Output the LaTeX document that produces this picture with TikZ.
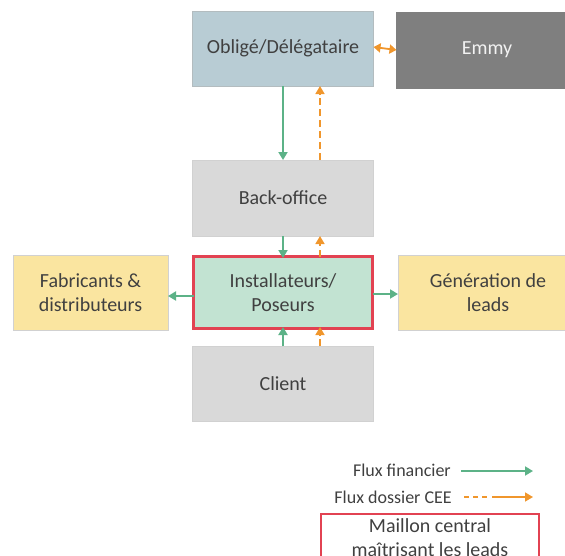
\documentclass[tikz,border=0pt]{standalone}
\usepackage{fontspec}
\setmainfont{Carlito}
\usetikzlibrary{positioning,arrows.meta}
\definecolor{CeeBlue}{RGB}{184,204,212}
\definecolor{CeeGrey}{RGB}{217,217,217}
\definecolor{CeeDark}{RGB}{127,127,127}
\definecolor{CeeMint}{RGB}{194,227,210}
\definecolor{CeeYellow}{RGB}{250,229,160}
\definecolor{CeeGreen}{RGB}{92,178,135}
\definecolor{CeeOrange}{RGB}{240,150,44}
\definecolor{CeeRed}{RGB}{226,66,82}
\definecolor{CeeText}{RGB}{64,64,64}
\tikzset{
  cee box/.style={
    draw=black!18,
    line width=0.8pt,
    align=center,
    text=CeeText,
    font=\fontsize{20pt}{24pt}\selectfont,
    inner sep=4pt,
    outer sep=0pt,
    minimum width=181pt,
    minimum height=75pt
  },
  cee actor/.style={cee box, fill=CeeGrey},
  cee oblige/.style={cee box, fill=CeeBlue, draw=CeeBlue!70!black!60},
  cee side/.style={cee box, fill=CeeYellow, minimum width=155pt},
  cee core/.style={cee box, fill=CeeMint, draw=CeeRed, line width=3pt, minimum width=179pt, minimum height=72pt},
  cee money/.style={-{Triangle[length=8pt,width=9pt]}, line width=1.8pt, CeeGreen},
  cee file/.style={-{Triangle[length=8pt,width=9pt]}, line width=1.6pt, CeeOrange, dash pattern=on 7pt off 4pt},
  cee legend/.style={font=\fontsize{18pt}{22pt}\selectfont, text=CeeText, inner sep=0pt}
}
\begin{document}
\begin{tikzpicture}[x=1pt,y=-1pt]
\useasboundingbox (0,0) rectangle (565,555);
\clip (0,0) rectangle (565,555);
\node[cee core] (inst) at (283,292.5) {Installateurs/\\Poseurs};
\node[cee actor, above=20.5pt of inst, minimum height=76pt] (back) {Back-office};
\node[cee oblige, above=74pt of back] (oblige) {Obligé/Délégataire};
\node[cee box, fill=CeeDark, draw=CeeDark, text=black!5, right=23pt of oblige, yshift=-1.5pt, minimum height=76pt] (emmy) {Emmy};
\node[cee actor, below=17.5pt of inst] (client) {Client};
\node[cee side, left=25.5pt of inst] (fab) {Fabricants \&\\distributeurs};
\node[cee side, right=25.5pt of inst, minimum width=180pt] (gen) {Génération de\\leads};
% flux entre acteurs
\draw[cee money] (oblige.south) -- (back.north);
\draw[cee file] ([xshift=37pt]back.north) -- ([xshift=37pt]oblige.south);
\draw[cee money] (back.south) -- ([yshift=-1.5pt]inst.north);
\draw[cee file] ([xshift=37pt]inst.north) -- ([xshift=37pt]back.south);
\draw[cee money] (client.north) -- ([yshift=1.5pt]inst.south);
\draw[cee file] ([xshift=37pt]client.north) -- ([xshift=37pt,yshift=1.5pt]inst.south);
\draw[cee money] ([yshift=-3.5pt]inst.west) -- ([yshift=-3.5pt]fab.east);
\draw[cee money] ([yshift=-1.5pt]inst.east) -- ([yshift=-1.5pt]gen.west);
\draw[{Triangle[length=7pt,width=9pt]}-{Triangle[length=7pt,width=9pt]}, line width=1.8pt, CeeOrange] ([yshift=1.5pt]oblige.east) -- ([yshift=0pt]emmy.west);
% legende
\node[cee legend, anchor=east] (fin) at (451,470) {Flux financier};
\node[cee legend, anchor=east] (cee) at (452,497) {Flux dossier CEE};
\coordinate (fin end) at (533,471);
\coordinate (cee end) at (533,497);
\draw[cee money] (fin.east -| 461,0) ++(0,1) -- (fin end);
\draw[cee file, dash pattern=on 5pt off 4pt on 5pt off 4pt on 5pt off 5pt on 60pt off 1pt] (cee.east -| 464,0) -- (cee end);
\node[cee box, draw=CeeRed, line width=2.5pt, text=CeeText, anchor=north, minimum width=218pt, minimum height=20pt, inner sep=5pt] (key) at (430,514) {Maillon central\\maîtrisant les leads};
\end{tikzpicture}
\end{document}
